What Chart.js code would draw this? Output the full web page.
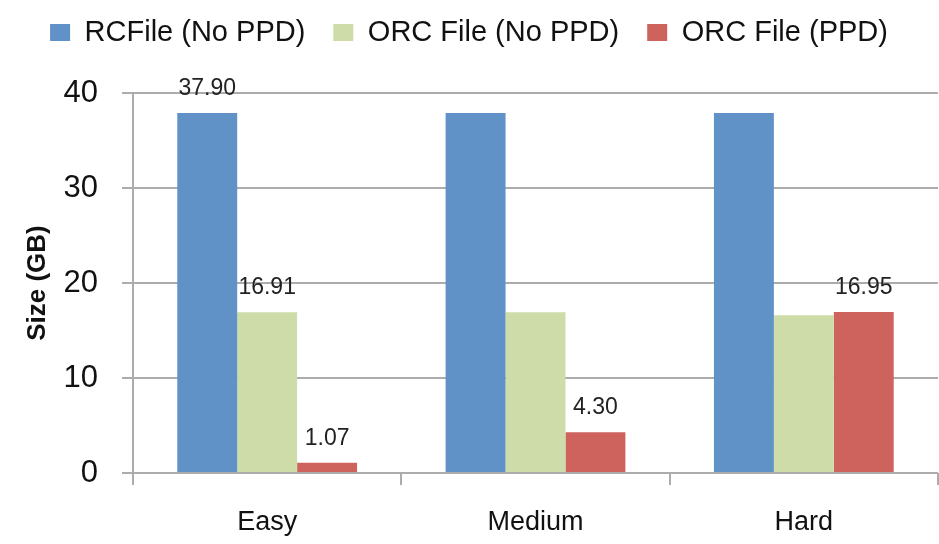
<!DOCTYPE html>
<html>
<head>
<meta charset="utf-8">
<title>File size by query difficulty</title>
<script src="https://cdn.jsdelivr.net/npm/chart.js@4.4.1/dist/chart.umd.min.js"></script>
<style>
  html, body { margin: 0; padding: 0; background: #ffffff; }
  #wrap { width: 939px; height: 544px; position: relative; }
</style>
</head>
<body>
<div id="wrap"><canvas id="chart" width="939" height="544"></canvas></div>
<script>
// Categories and series values (GB)
const categories = ['Easy', 'Medium', 'Hard'];
const seriesNames = ['RCFile (No PPD)', 'ORC File (No PPD)', 'ORC File (PPD)'];
const rcfileNoPpd = [37.90, 37.90, 37.90];
const orcNoPpd = [16.91, 16.91, 16.60];
const orcPpd = [1.07, 4.30, 16.95];
// Which bars carry a value label
const rcfileLabelled = [true, false, false];
const orcNoPpdLabelled = [true, false, false];
const orcPpdLabelled = [true, true, true];
const yTicks = [0, 10, 20, 30, 40];

const FONT = "'Liberation Sans', Arial, sans-serif";
const GRID = '#acacac';
const TEXT = '#111111';

// Value labels drawn above selected bars
const valueLabels = {
  id: 'valueLabels',
  afterDatasetsDraw(chart) {
    const ctx = chart.ctx;
    ctx.save();
    ctx.font = '23px ' + FONT;
    ctx.fillStyle = '#222222';
    ctx.textAlign = 'center';
    ctx.textBaseline = 'bottom';
    chart.data.datasets.forEach((ds, di) => {
      const meta = chart.getDatasetMeta(di);
      meta.data.forEach((bar, i) => {
        if (!ds.labelled[i]) return;
        ctx.fillText(ds.data[i].toFixed(2), bar.x, bar.y - 13);
      });
    });
    ctx.restore();
  }
};

// Fixed legend band height above the plot
const legendBand = {
  id: 'legendBand',
  beforeLayout(chart) {
    const lg = chart.legend;
    if (lg && !lg._bandPatched) {
      const fit = lg.fit;
      lg.fit = function () { fit.call(this); this.height = 103; };
      lg._bandPatched = true;
    }
  }
};

new Chart(document.getElementById('chart'), {
  type: 'bar',
  data: {
    labels: categories,
    datasets: [
      { label: seriesNames[0], data: rcfileNoPpd, labelled: rcfileLabelled, backgroundColor: '#6092c8' },
      { label: seriesNames[1], data: orcNoPpd, labelled: orcNoPpdLabelled, backgroundColor: '#cedca9' },
      { label: seriesNames[2], data: orcPpd, labelled: orcPpdLabelled, backgroundColor: '#ce635e' }
    ]
  },
  options: {
    responsive: false,
    animation: false,
    devicePixelRatio: 1,
    layout: { padding: { top: -10, left: 0, right: 1, bottom: 0 } },
    datasets: { bar: { categoryPercentage: 0.67, barPercentage: 1.0 } },
    plugins: {
      tooltip: { enabled: false },
      legend: {
        position: 'top',
        labels: {
          font: { family: FONT, size: 29 },
          color: TEXT,
          boxWidth: 20,
          boxHeight: 17,
          padding: 28
        }
      }
    },
    scales: {
      x: {
        afterFit(scale) { scale.height = 71; },
        grid: { offset: true, drawOnChartArea: false, drawTicks: true, tickLength: 12, color: GRID, lineWidth: 2 },
        border: { display: false },
        ticks: { font: { family: FONT, size: 27 }, color: TEXT, padding: 21 }
      },
      y: {
        min: 0,
        max: 40,
        afterFit(scale) { scale.width = 133; },
        afterBuildTicks(scale) { scale.ticks = yTicks.map(v => ({ value: v })); },
        grid: { color: GRID, lineWidth: 2, tickLength: 11 },
        border: { display: true, color: GRID, width: 2 },
        ticks: { font: { family: FONT, size: 31 }, color: TEXT, padding: 24 },
        title: {
          display: true,
          text: 'Size (GB)',
          font: { family: FONT, size: 26, weight: 'bold' },
          color: TEXT,
          padding: { top: 22, bottom: 0 }
        }
      }
    }
  },
  plugins: [legendBand, valueLabels]
});
</script>
</body>
</html>
